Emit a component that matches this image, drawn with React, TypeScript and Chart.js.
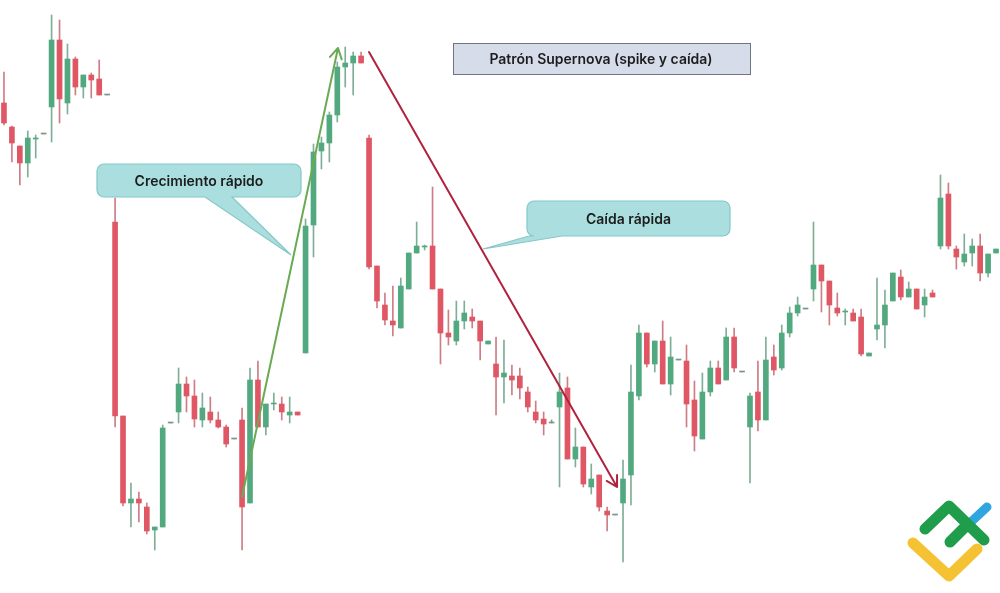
import React, { useEffect, useRef } from "react";
import { Chart, registerables } from "chart.js";

Chart.register(...registerables);

// Price levels (screen rows: smaller = higher price, axis reversed)
const opens = [
  103, 127, 146, 163, 139, 134, 107, 40, 103, 59, 87, 75, 79, 95,
  222, 416, 503, 499, 507, 530, 527, 423, 412, 384, 396, 420, 412, 420, 427, 439,
  420, 503, 380, 427, 404, 404, 415, 412,
  353, 225, 151, 143, 115, 67, 63, 56,
  138, 266, 305, 321, 328, 289, 253, 247, 246, 289, 333, 341, 321, 317, 321, 344,
  364, 377, 376, 376, 392, 412, 419, 423, 407, 388, 459, 447, 487, 475, 511, 515,
  503, 475, 396, 333, 364, 341, 384, 360, 361, 400, 439, 392, 368, 380, 337, 372,
  427, 392, 420, 357, 368, 333, 313, 309, 289, 265, 281, 308, 312, 313, 317, 356,
  329, 325, 301, 277, 297, 289, 305, 293, 246, 194, 249, 262, 253, 246, 273, 253,
];
const closes = [
  123, 143, 163, 138, 138, 134, 40, 99, 59, 87, 75, 80, 95, 95,
  416, 503, 499, 503, 531, 527, 428, 423, 384, 396, 419, 408, 420, 427, 444, 439,
  507, 380, 427, 404, 403, 412, 412, 415,
  226, 152, 143, 115, 67, 63, 56, 63,
  267, 301, 320, 325, 286, 253, 246, 246, 289, 333, 337, 321, 313, 321, 341, 341,
  377, 373, 380, 388, 407, 420, 424, 423, 392, 459, 447, 484, 479, 507, 515, 515,
  479, 392, 333, 364, 341, 384, 357, 360, 404, 436, 392, 368, 384, 337, 368, 372,
  396, 420, 360, 370, 333, 313, 305, 309, 265, 281, 305, 313, 311, 321, 354, 353,
  325, 305, 273, 297, 289, 309, 297, 297, 198, 246, 257, 254, 246, 273, 254, 249,
];
const highs = [
  72, 126, 146, 131, 135, 134, 15, 20, 44, 57, 75, 73, 60, 95,
  198, 416, 483, 492, 503, 527, 425, 423, 368, 377, 380, 393, 397, 412, 425, 439,
  408, 368, 361, 404, 393, 397, 397, 412,
  219, 144, 137, 112, 62, 47, 52, 52,
  135, 266, 293, 286, 278, 253, 222, 245, 187, 289, 310, 301, 301, 309, 321, 341,
  337, 340, 365, 368, 387, 401, 412, 420, 373, 377, 428, 447, 464, 475, 507, 515,
  460, 365, 325, 333, 341, 321, 337, 360, 345, 381, 373, 361, 361, 328, 328, 372,
  393, 361, 337, 345, 325, 307, 297, 309, 222, 265, 281, 293, 309, 309, 309, 353,
  278, 290, 273, 270, 282, 289, 289, 290, 175, 183, 246, 234, 239, 234, 254, 249,
];
const lows = [
  125, 162, 185, 177, 158, 134, 142, 123, 114, 95, 98, 98, 95, 95,
  427, 506, 527, 522, 534, 550, 527, 423, 423, 412, 427, 427, 423, 428, 447, 439,
  550, 503, 427, 435, 410, 420, 423, 415,
  353, 257, 169, 162, 122, 87, 95, 63,
  269, 308, 325, 336, 328, 289, 253, 250, 289, 364, 345, 345, 329, 328, 360, 344,
  415, 403, 395, 399, 412, 423, 435, 423, 487, 459, 467, 487, 494, 511, 531, 515,
  562, 505, 400, 367, 372, 384, 395, 360, 427, 451, 439, 396, 384, 380, 372, 372,
  483, 431, 420, 375, 370, 337, 316, 309, 301, 312, 325, 316, 325, 321, 356, 356,
  340, 348, 301, 300, 297, 309, 317, 297, 249, 249, 269, 266, 266, 281, 277, 253,
];
const sessions = opens.map((_, i) => `S${i + 1}`);

const GREEN = "#52a97f";
const RED = "#df5765";
const GREEN_WICK = "#7fae97";
const RED_WICK = "#cf7c84";
const FLAT = "#7c968c";

function roundRectPath(ctx: CanvasRenderingContext2D, x: number, y: number, w: number, h: number, r: number) {
  ctx.moveTo(x + r, y);
  ctx.lineTo(x + w - r, y);
  ctx.arcTo(x + w, y, x + w, y + r, r);
  ctx.lineTo(x + w, y + h - r);
  ctx.arcTo(x + w, y + h, x + w - r, y + h, r);
}

function drawCallout(
  ctx: CanvasRenderingContext2D,
  x: number, y: number, w: number, h: number, r: number,
  baseA: number, baseB: number, tipX: number, tipY: number, text: string
) {
  ctx.save();
  ctx.beginPath();
  roundRectPath(ctx, x, y, w, h, r);
  // bottom edge right -> left with pointer
  ctx.lineTo(baseB, y + h);
  ctx.lineTo(tipX, tipY);
  ctx.lineTo(baseA, y + h);
  ctx.lineTo(x + r, y + h);
  ctx.arcTo(x, y + h, x, y + h - r, r);
  ctx.lineTo(x, y + r);
  ctx.arcTo(x, y, x + r, y, r);
  ctx.closePath();
  ctx.fillStyle = "#abdfdf";
  ctx.fill();
  ctx.strokeStyle = "#86c7c8";
  ctx.lineWidth = 1.2;
  ctx.stroke();
  ctx.fillStyle = "#1d1d1d";
  ctx.font = "600 14px Inter";
  ctx.textAlign = "center";
  ctx.textBaseline = "middle";
  ctx.fillText(text, x + w / 2, y + h / 2 + 1);
  ctx.restore();
}

function drawArrow(ctx: CanvasRenderingContext2D, x1: number, y1: number, x2: number, y2: number, color: string) {
  ctx.save();
  ctx.strokeStyle = color;
  ctx.lineWidth = 2;
  ctx.lineCap = "round";
  ctx.beginPath();
  ctx.moveTo(x1, y1);
  ctx.lineTo(x2, y2);
  const ang = Math.atan2(y1 - y2, x1 - x2);
  const len = 12;
  for (const d of [-Math.PI / 6, Math.PI / 6]) {
    ctx.moveTo(x2, y2);
    ctx.lineTo(x2 + len * Math.cos(ang + d), y2 + len * Math.sin(ang + d));
  }
  ctx.stroke();
  ctx.restore();
}

function drawLogo(ctx: CanvasRenderingContext2D) {
  ctx.save();
  ctx.lineCap = "round";
  ctx.lineJoin = "round";
  ctx.lineWidth = 11;
  ctx.strokeStyle = "#f4c233";
  ctx.beginPath();
  ctx.moveTo(913, 543);
  ctx.lineTo(949, 576);
  ctx.lineTo(977, 549);
  ctx.stroke();
  ctx.strokeStyle = "#2fa6df";
  ctx.lineWidth = 9;
  ctx.beginPath();
  ctx.moveTo(972, 521);
  ctx.lineTo(987, 507);
  ctx.stroke();
  ctx.strokeStyle = "#1f9d4b";
  ctx.lineWidth = 11;
  ctx.beginPath();
  ctx.moveTo(925, 529);
  ctx.lineTo(949, 506);
  ctx.lineTo(984, 540);
  ctx.moveTo(950, 542);
  ctx.lineTo(967, 525);
  ctx.stroke();
  ctx.restore();
}

const overlayPlugin = {
  id: "overlay",
  afterDraw(chart: Chart) {
    const ctx = chart.ctx;
    // title box
    ctx.save();
    ctx.fillStyle = "#d6dcea";
    ctx.fillRect(453, 43, 297, 31);
    ctx.strokeStyle = "#6f7583";
    ctx.lineWidth = 1;
    ctx.strokeRect(453.5, 43.5, 297, 31);
    ctx.fillStyle = "#1d1d1d";
    ctx.font = "600 14px Inter";
    ctx.textAlign = "center";
    ctx.textBaseline = "middle";
    ctx.fillText("Patrón Supernova (spike y caída)", 601, 60);
    ctx.restore();

    drawArrow(ctx, 242, 497, 338, 48, "#6aaa55");
    drawArrow(ctx, 369, 52, 617, 487, "#b0223e");

    drawCallout(ctx, 97, 164, 204, 33, 7, 205, 232, 291, 255, "Crecimiento rápido");
    drawCallout(ctx, 527, 201, 203, 35, 7, 529, 562, 483, 249, "Caída rápida");

    drawLogo(ctx);
  },
};

export default function App() {
  const ref = useRef<HTMLCanvasElement | null>(null);
  useEffect(() => {
    if (!ref.current) return;
    const bodyColors = opens.map((o, i) => (closes[i] < o ? GREEN : closes[i] > o ? RED : FLAT));
    const wickColors = opens.map((o, i) => (closes[i] < o ? GREEN_WICK : closes[i] > o ? RED_WICK : FLAT));
    const chart = new Chart(ref.current, {
      type: "bar",
      data: {
        labels: sessions,
        datasets: [
          {
            label: "wick",
            data: lows.map((l, i) => [l, highs[i]]) as any,
            backgroundColor: wickColors,
            barThickness: 1,
            grouped: false,
            order: 2,
          } as any,
          {
            label: "body",
            data: opens.map((o, i) => [o, closes[i]]) as any,
            backgroundColor: bodyColors,
            barThickness: 5,
            minBarLength: 1,
            grouped: false,
            order: 1,
          } as any,
        ],
      },
      options: {
        responsive: false,
        maintainAspectRatio: false,
        animation: false,
        layout: { padding: 0 },
        plugins: { legend: { display: false }, tooltip: { enabled: false } },
        scales: {
          x: { display: false, offset: true, grid: { display: false } },
          y: { display: false, reverse: true, min: 0, max: 593, grid: { display: false } },
        },
      },
      plugins: [overlayPlugin],
    });
    return () => chart.destroy();
  }, []);
  return (
    <div style={{ position: "fixed", left: 0, top: 0, width: 1000, height: 593, background: "#ffffff" }}>
      <canvas ref={ref} width={1000} height={593} style={{ display: "block" }} />
    </div>
  );
}
